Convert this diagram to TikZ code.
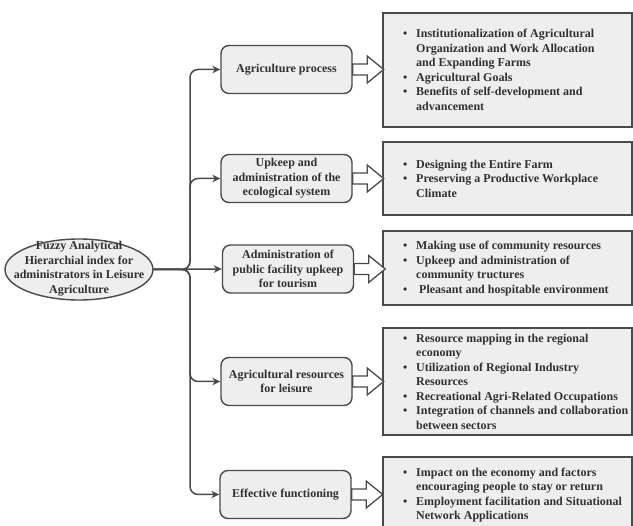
\documentclass[tikz,border=0pt]{standalone}
\usepackage{fontspec}
\setmainfont{Liberation Serif}
\usetikzlibrary{shapes.geometric,arrows.meta,calc}
\definecolor{edgec}{HTML}{4A4A4A}
\definecolor{boxfill}{HTML}{EEEEEE}
\definecolor{txtc}{HTML}{303030}
\newcommand{\bitem}{\makebox[13pt][l]{\textbullet}}
\newcommand{\bcont}{\hspace*{13pt}}
\begin{document}
\begin{tikzpicture}[x=1pt,y=-1pt,
  txtfont/.style={font=\fontsize{12}{14.5}\selectfont\bfseries, text=txtc},
  lbox/.style={draw=edgec, line width=1.4pt, fill=boxfill, rounded corners=8pt,
    minimum width=131pt, minimum height=48pt, align=center, inner sep=0pt, txtfont},
  rbox/.style={draw=edgec, line width=1.7pt, fill=boxfill, inner sep=0pt},
  rtext/.style={align=left, inner sep=0pt, anchor=west, txtfont},
  rootell/.style={ellipse, draw=edgec, line width=1.4pt, fill=boxfill,
    minimum width=148pt, minimum height=61pt, inner sep=0pt},
  roottext/.style={align=center, inner sep=0pt, txtfont},
  conn/.style={draw=edgec, line width=1.5pt, rounded corners=8pt,
    -{Stealth[length=8pt,width=7.5pt]}},
  blk/.style={draw=edgec, line width=1.3pt, fill=white, line join=miter}]
\useasboundingbox (0,0) rectangle (633,526);

% root
\node[rootell] (root) at (79,269.5) {};
\node[roottext] (roottxt) at (79,268.5) {Fuzzy Analytical\\Hierarchial index for\\administrators in Leisure\\Agriculture};

% left boxes
\node[lbox] (b1) at (286.5,69.5) {Agriculture process};
\node[lbox] (b2) at (286.5,178.5) {Upkeep and\\administration of the\\ecological system};
\node[lbox] (b3) at (288,269) {Administration of\\public facility upkeep\\for tourism};
\node[lbox] (b4) at (286.5,381.5) {Agricultural resources\\for leisure};
\node[lbox] (b5) at (285.5,494.5) {Effective functioning};

% right boxes
\node[rbox, minimum width=249pt, minimum height=114pt] (r1) at (507.5,70) {};
\node[rbox, minimum width=249pt, minimum height=73pt] (r2) at (507.5,178.5) {};
\node[rbox, minimum width=249pt, minimum height=74pt] (r3) at (507.5,268) {};
\node[rbox, minimum width=249pt, minimum height=107pt] (r4) at (507.5,381.5) {};
\node[rbox, minimum width=249pt, minimum height=83pt] (r5) at (507.5,498.5) {};

\node[rtext] (t1) at (403,70) {\bitem Institutionalization of Agricultural\\
\bcont Organization and Work Allocation\\
\bcont and Expanding Farms\\
\bitem Agricultural Goals\\
\bitem Benefits of self-development and\\
\bcont advancement};
\node[rtext] (t2) at (403,178.5) {\bitem Designing the Entire Farm\\
\bitem Preserving a Productive Workplace\\
\bcont Climate};
\node[rtext] (t3) at (403,268.5) {\bitem Making use of community resources\\
\bitem Upkeep and administration of\\
\bcont community tructures\\
\bitem\hspace*{3pt}Pleasant and hospitable environment};
\node[rtext] (t4) at (403,381.5) {\bitem Resource mapping in the regional\\
\bcont economy\\
\bitem Utilization of Regional Industry\\
\bcont Resources\\
\bitem Recreational Agri-Related Occupations\\
\bitem Integration of channels and collaboration\\
\bcont between sectors};
\node[rtext] (t5) at (403,495) {\bitem Impact on the economy and factors\\
\bcont encouraging people to stay or return\\
\bitem Employment facilitation and Situational\\
\bcont Network Applications};

% connectors
\coordinate (trunk) at (190,269.5);
\draw[conn] (root.east) -- (trunk) |- (b1.west);
\draw[conn] (root.east) -- (trunk) |- (b2.west);
\draw[conn] (root.east) -- (b3.west);
\draw[conn] (root.east) -- (trunk) |- (b4.west);
\draw[conn] (root.east) -- (trunk) |- (b5.west);

% hollow block arrows
\foreach \b in {b1,b2,b3,b4,b5}{
  \draw[blk] (\b.east) -- ++(0,-5.5) -- ++(14.5,0) -- ++(0,-8) -- ++(16.5,13.5)
    -- ++(-16.5,13.5) -- ++(0,-8) -- ++(-14.5,0) -- cycle;
}
\end{tikzpicture}
\end{document}
